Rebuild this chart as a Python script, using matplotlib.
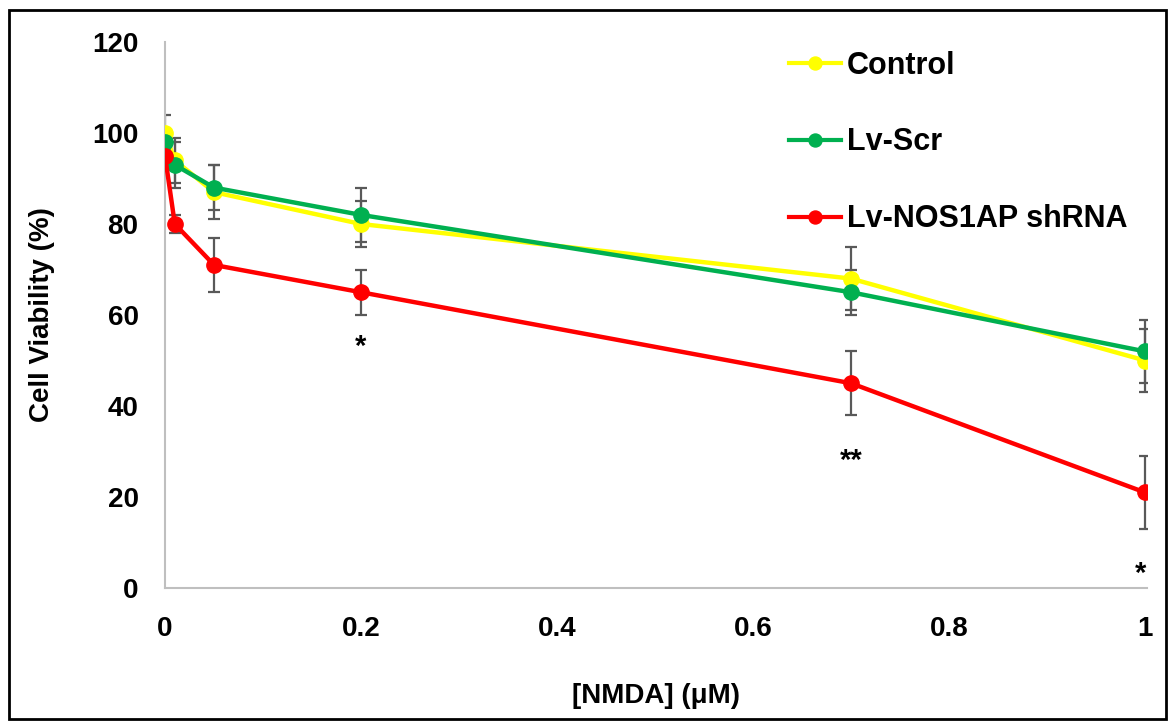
import matplotlib
matplotlib.use("Agg")
import matplotlib.pyplot as plt
from matplotlib.patches import Rectangle

plt.rcParams['font.family'] = ['Liberation Sans', 'DejaVu Sans']
plt.rcParams['font.weight'] = 'bold'

nmda = [0, 0.01, 0.05, 0.2, 0.7, 1.0]
series_names = ["Control", "Lv-Scr", "Lv-NOS1AP shRNA"]
control = [100, 94, 87, 80, 68, 50]
control_err = [4, 5, 6, 5, 7, 7]
lv_scr = [98, 93, 88, 82, 65, 52]
lv_scr_err = [1, 5, 5, 6, 5, 7]
lv_shrna = [95, 80, 71, 65, 45, 21]
lv_shrna_err = [1, 2, 6, 5, 7, 8]
sig_x = [0.2, 0.7, 0.995]
sig_y = [53, 28, 3]
sig_labels = ["*", "**", "*"]
y_ticks = [0, 20, 40, 60, 80, 100, 120]
x_ticks = [0, 0.2, 0.4, 0.6, 0.8, 1]
x_ticklabels = ["0", "0.2", "0.4", "0.6", "0.8", "1"]

colors = ["#FFFF00", "#00B050", "#FF0000"]

fig = plt.figure(figsize=(11.75, 7.27), dpi=100)
ax = fig.add_axes([165/1175, 1-588/727, (1147-165)/1175, (588-42)/727])

data = [(control, control_err), (lv_scr, lv_scr_err), (lv_shrna, lv_shrna_err)]
for (vals, errs), name, c in zip(data, series_names, colors):
    ax.errorbar(nmda, vals, yerr=errs, fmt='none', ecolor='#595959',
                elinewidth=1.6, capsize=4.5, capthick=1.6, zorder=2)
for (vals, errs), name, c in zip(data, series_names, colors):
    ax.plot(nmda, vals, color=c, lw=3.2, marker='o', markersize=11,
            label=name, zorder=3)

for x, y, s in zip(sig_x, sig_y, sig_labels):
    ax.text(x, y, s, ha='center', va='center', fontsize=21, fontweight='bold')

ax.set_xlim(0, 1.002)
ax.set_ylim(0, 120)
ax.set_yticks(y_ticks)
ax.set_xticks(x_ticks)
ax.set_xticklabels(x_ticklabels)
ax.tick_params(axis='both', length=0, labelsize=20)
ax.tick_params(axis='y', pad=19)
ax.tick_params(axis='x', pad=20)
for sp in ['top', 'right']:
    ax.spines[sp].set_visible(False)
for sp in ['left', 'bottom']:
    ax.spines[sp].set_color('#BFBFBF')
    ax.spines[sp].set_linewidth(1.5)

ax.set_ylabel("Cell Viability (%)", fontsize=20, fontweight='bold', labelpad=27)
ax.set_xlabel("[NMDA] (μM)", fontsize=20, fontweight='bold', labelpad=30)

leg = ax.legend(loc='upper left', bbox_to_anchor=(0.6354, 0.984), frameon=False,
                fontsize=22, handlelength=1.7, handletextpad=0.2,
                labelspacing=1.53, markerscale=0.85, borderpad=0,
                borderaxespad=0)
for t in leg.get_texts():
    t.set_fontweight('bold')
for h in leg.legend_handles:
    h.set_linewidth(3)

fig.patches.append(Rectangle((9/1175, 1-719/727), (1166-9)/1175, (719-10)/727,
                             transform=fig.transFigure, fill=False,
                             edgecolor='black', linewidth=2))

fig.savefig("out.png", dpi=100)
